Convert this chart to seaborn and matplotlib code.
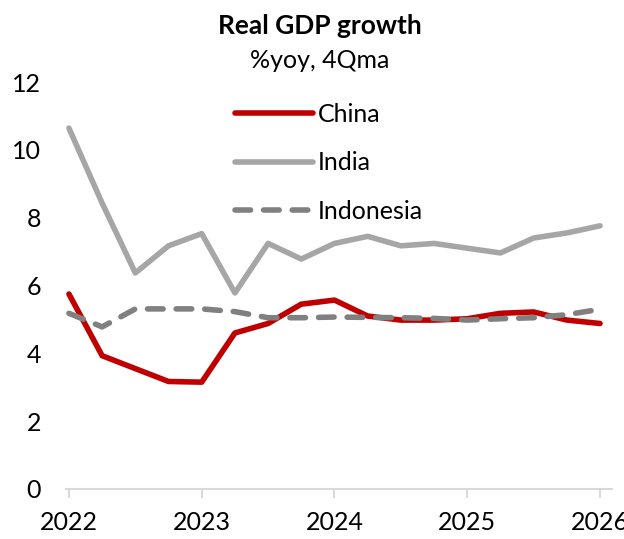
import matplotlib
matplotlib.use("Agg")
import matplotlib.pyplot as plt
import seaborn as sns
import pandas as pd

quarters = ["2022Q1", "2022Q2", "2022Q3", "2022Q4",
            "2023Q1", "2023Q2", "2023Q3", "2023Q4",
            "2024Q1", "2024Q2", "2024Q3", "2024Q4",
            "2025Q1", "2025Q2", "2025Q3", "2025Q4",
            "2026Q1"]
china = [5.75, 3.93, 3.55, 3.17, 3.15, 4.6, 4.88, 5.45, 5.57, 5.1, 4.98, 4.98, 5.02, 5.18, 5.22, 4.98, 4.88]
india = [10.64, 8.43, 6.37, 7.17, 7.53, 5.78, 7.24, 6.78, 7.24, 7.45, 7.17, 7.24, 7.1, 6.96, 7.4, 7.55, 7.76]
indonesia = [5.18, 4.78, 5.31, 5.31, 5.31, 5.23, 5.05, 5.05, 5.07, 5.06, 5.05, 5.03, 4.98, 5.02, 5.05, 5.14, 5.3]
year_ticks = [2022, 2023, 2024, 2025, 2026]
title = "Real GDP growth"
subtitle = "%yoy, 4Qma"

periods = pd.PeriodIndex(quarters, freq="Q")
xnum = periods.year + (periods.quarter - 1) / 4.0

df = pd.DataFrame({
    "x": list(xnum) * 3,
    "value": china + india + indonesia,
    "country": ["China"] * len(china) + ["India"] * len(india) + ["Indonesia"] * len(indonesia),
})

sns.set_theme(style="white")
plt.rcParams["font.family"] = ["Lato", "DejaVu Sans"]

fig = plt.figure(figsize=(6.24, 5.39), dpi=100)
ax = fig.add_axes([66 / 624, 1 - 489 / 539, (612 - 66) / 624, (489 - 82) / 539])

lw = 4.0
sns.lineplot(data=df, x="x", y="value", hue="country", style="country",
             palette={"China": "#C00000", "India": "#A6A6A6", "Indonesia": "#808080"},
             dashes={"China": "", "India": "", "Indonesia": (2.8, 2.35)},
             hue_order=["China", "India", "Indonesia"],
             linewidth=lw, ax=ax, legend=True)
for line in ax.get_lines():
    line.set_dash_capstyle("round")
    line.set_solid_capstyle("round")
    line.set_solid_joinstyle("round")

ax.set_xlim(2021.978, 2026.09)
ax.set_ylim(0, 12)
ax.set_xticks(year_ticks)
ax.set_xticklabels([str(y) for y in year_ticks])
ax.set_yticks(range(0, 13, 2))
ax.set_xlabel("")
ax.set_ylabel("")
for s in ["top", "right", "left"]:
    ax.spines[s].set_visible(False)
ax.spines["bottom"].set_color("#D9D9D9")
ax.spines["bottom"].set_linewidth(1.5)
ax.tick_params(axis="x", direction="out", length=6.5, width=1.5, color="#D9D9D9",
               labelsize=18, pad=9, bottom=True, labelcolor="black")
ax.tick_params(axis="y", length=0, labelsize=18, pad=18, labelcolor="black")
ax.grid(False)

handles, labels = ax.get_legend_handles_labels()
leg = ax.legend(handles, labels, loc="upper left",
                bbox_to_anchor=(235 / 624, 1 - 103 / 539), bbox_transform=fig.transFigure,
                frameon=False, fontsize=18, handlelength=3.1, handletextpad=0.2,
                labelspacing=1.02, borderpad=0, borderaxespad=0)
for t in leg.get_texts():
    t.set_color("black")

fig.text(320 / 624, 1 - 26 / 539, title, ha="center", va="center",
         fontsize=19, fontweight="bold", color="black")
fig.text(320 / 624, 1 - 61 / 539, subtitle, ha="center", va="center",
         fontsize=18, color="black")

fig.savefig("out.png", dpi=100)
